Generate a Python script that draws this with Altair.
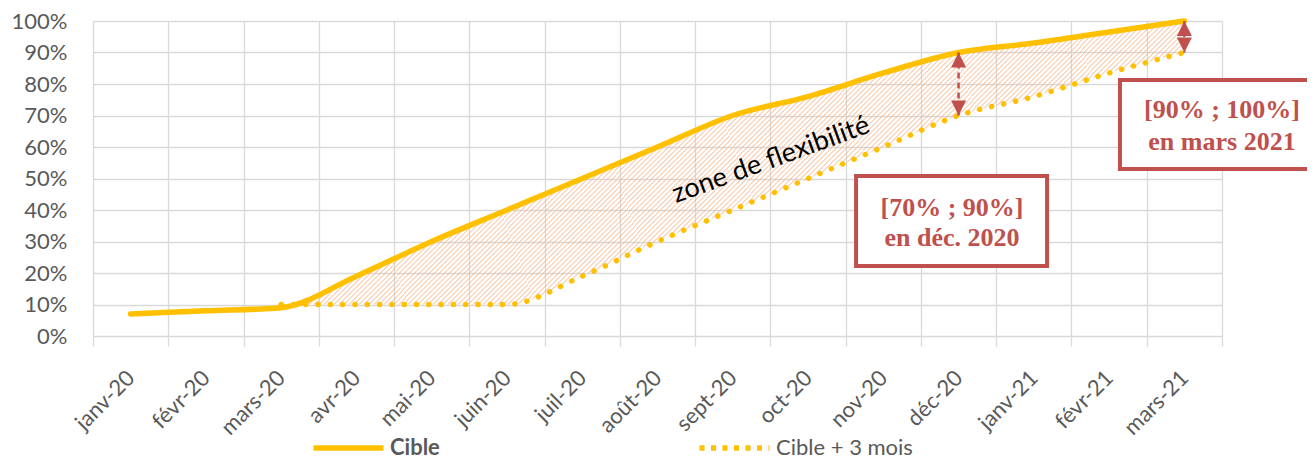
import altair as alt
import pandas as pd

# ---------------- data ----------------
mois = ["janv-20", "févr-20", "mars-20", "avr-20", "mai-20", "juin-20", "juil-20",
        "août-20", "sept-20", "oct-20", "nov-20", "déc-20", "janv-21", "févr-21", "mars-21"]
cible = [0.07, 0.08, 0.09, 0.19, 0.30, 0.40, 0.50, 0.60, 0.70, 0.76, 0.835, 0.90, 0.93, 0.965, 1.00]
cible_3m = [None, None, 0.10, 0.10, 0.10, 0.10, 0.19, 0.30, 0.40, 0.50, 0.60, 0.70, 0.76, 0.835, 0.90]
series = ["Cible", "Cible + 3 mois"]
y_ticks = [0, 0.1, 0.2, 0.3, 0.4, 0.5, 0.6, 0.7, 0.8, 0.9, 1.0]

zone_label = ["zone de flexibilité"]
zone_mois = ["oct-20"]
zone_val = [0.559]

box1_mois = ["déc-20"]
box1_top = [0.508]
box1_bot = [0.222]
box1_lines = ["[70% ; 90%]", "en déc. 2020"]
box1_line_val = [0.406, 0.311]

box2_mois = ["mars-21"]
box2_top = [0.813]
box2_bot = [0.530]
box2_lines = ["[90% ; 100%]", "en mars 2021"]
box2_line_val = [0.717, 0.616]

arrow_mois = ["déc-20", "mars-21"]
arrow_top = [0.90, 1.00]
arrow_bot = [0.70, 0.90]

# ---------------- frames ----------------
wide = pd.DataFrame({"mois": mois, "cible": cible, "cible3": cible_3m})
long = pd.concat([
    pd.DataFrame({"mois": mois, "val": cible, "serie": series[0]}),
    pd.DataFrame({"mois": mois, "val": cible_3m, "serie": series[1]}),
]).dropna()

LINE = "#FFC000"
RED = "#C0504D"
GRID = "#D9D9D9"
TXT = "#595959"
HATCH = "#F4B183"

x_scale = alt.Scale(type="band", paddingInner=0, paddingOuter=0, domain=mois)
x_axis = alt.Axis(title=None, tickBand="extent", grid=True, gridColor=GRID, gridWidth=1.3,
                  ticks=True, tickColor=GRID, tickWidth=1.3, tickSize=10, domain=False,
                  labelAngle=-45, labelAlign="right", labelBaseline="middle", labelPadding=28,
                  labelFont="Lato", labelFontSize=22, labelColor=TXT)
y_scale = alt.Scale(domain=[0, 1], nice=False)
y_axis = alt.Axis(title=None, values=y_ticks, format=".0%", grid=True, gridColor=GRID,
                  gridWidth=1.3, ticks=False, domain=False, labelPadding=26,
                  labelFont="Lato", labelFontSize=22, labelColor=TXT)


def X(band=True):
    if band:
        return alt.X("mois:N", scale=x_scale, axis=x_axis, sort=mois, bandPosition=0.5)
    return alt.X("mois:N", scale=x_scale, axis=x_axis, sort=mois)


def Y(field):
    return alt.Y(field, scale=y_scale, axis=y_axis, title=None)


# hatch made from a striped linear gradient
N = 200
stops = []
for k in range(N):
    a, b, c = k / N, (k + 0.4) / N, (k + 1) / N
    stops += [alt.GradientStop(offset=a, color=HATCH), alt.GradientStop(offset=b, color=HATCH),
              alt.GradientStop(offset=b, color="rgba(255,255,255,0)"),
              alt.GradientStop(offset=c, color="rgba(255,255,255,0)")]
hatch = alt.Gradient(gradient="linear", stops=stops, x1=0, y1=0, x2=1, y2=0.314)

area = alt.Chart(wide).transform_filter("datum.cible3 != null").mark_area(
    color=hatch, opacity=0.5, interpolate="monotone"
).encode(x=X(), y=Y("cible3:Q"), y2="cible:Q")

legend = alt.Legend(orient="none", legendX=244.5, legendY=416, direction="horizontal", title=None,
                    symbolType="M-5,0L5,0", symbolSize=196,
                    symbolStrokeWidth=alt.ExprRef("datum.label == 'Cible' ? 5.5 : 5.5"),
                    symbolStrokeColor=LINE, symbolOpacity=1,
                    symbolDash=alt.ExprRef("datum.label == 'Cible' ? [1, 0] : [5, 6.5]"),
                    labelFont="Lato", labelFontSize=22, labelColor=TXT, labelOffset=30.5,
                    columnPadding=248, padding=0,
                    labelFontWeight=alt.ExprRef("datum.label == 'Cible' ? 'bold' : 'normal'"))
color = alt.Color("serie:N", scale=alt.Scale(domain=series, range=[LINE, LINE]), legend=legend)

line_dot = alt.Chart(long).transform_filter(alt.datum.serie == series[1]).mark_line(
    interpolate="monotone", strokeWidth=5.5, strokeCap="round", strokeDash=[0.1, 12.2]
).encode(x=X(), y=Y("val:Q"), color=color)
line_sol = alt.Chart(long).transform_filter(alt.datum.serie == series[0]).mark_line(
    interpolate="monotone", strokeWidth=5.5, strokeCap="round"
).encode(x=X(), y=Y("val:Q"), color=color)

zone = alt.Chart(pd.DataFrame({"mois": zone_mois, "v": zone_val, "t": zone_label})).mark_text(
    font="Lato", fontSize=27, color="black", angle=340, align="center", baseline="middle", xOffset=-37
).encode(x=X(), y=Y("v:Q"), text="t:N")

arrows = pd.DataFrame({"mois": arrow_mois, "top": arrow_top, "bot": arrow_bot})
arrow_rule = alt.Chart(arrows).mark_rule(color=RED, strokeWidth=2.5, strokeDash=[6, 4]).encode(
    x=X(), y=Y("top:Q"), y2="bot:Q")
head_top = alt.Chart(arrows).mark_point(shape="M0,0L1,2L-1,2Z", filled=True, size=225,
                                        color=RED, opacity=1).encode(x=X(), y=Y("top:Q"))
head_bot = alt.Chart(arrows).mark_point(shape="M0,0L1,-2L-1,-2Z", filled=True, size=225,
                                        color=RED, opacity=1).encode(x=X(), y=Y("bot:Q"))

box1 = alt.Chart(pd.DataFrame({"mois": box1_mois, "a": box1_top, "b": box1_bot})).mark_bar(
    width=191, xOffset=-7, fill="white", stroke=RED, strokeWidth=4
).encode(x=X(False), y=Y("a:Q"), y2="b:Q")
box2 = alt.Chart(pd.DataFrame({"mois": box2_mois, "a": box2_top, "b": box2_bot})).mark_bar(
    width=260, xOffset=65.6, fill="white", stroke=RED, strokeWidth=4
).encode(x=X(False), y=Y("a:Q"), y2="b:Q")

txt1 = alt.Chart(pd.DataFrame({"mois": box1_mois * 2, "v": box1_line_val, "t": box1_lines})).mark_text(
    font="Liberation Serif", fontSize=26, fontWeight="bold", color=RED, align="center",
    baseline="middle", xOffset=-6.6
).encode(x=X(), y=Y("v:Q"), text="t:N")
txt2 = alt.Chart(pd.DataFrame({"mois": box2_mois * 2, "v": box2_line_val, "t": box2_lines})).mark_text(
    font="Liberation Serif", fontSize=26, fontWeight="bold", color=RED, align="center",
    baseline="middle", xOffset=37.6
).encode(x=X(), y=Y("v:Q"), text="t:N")

chart = alt.layer(
    area, line_dot, line_sol, zone, arrow_rule, head_top, head_bot, box1, box2, txt1, txt2
).properties(
    width=1129, height=315,
    autosize=alt.AutoSizeParams(type="none"),
    padding={"left": 85, "top": 13, "right": 85, "bottom": 126},
).configure_view(stroke=None)

chart.save("out.html", embed_options={"renderer": "svg", "actions": False})
